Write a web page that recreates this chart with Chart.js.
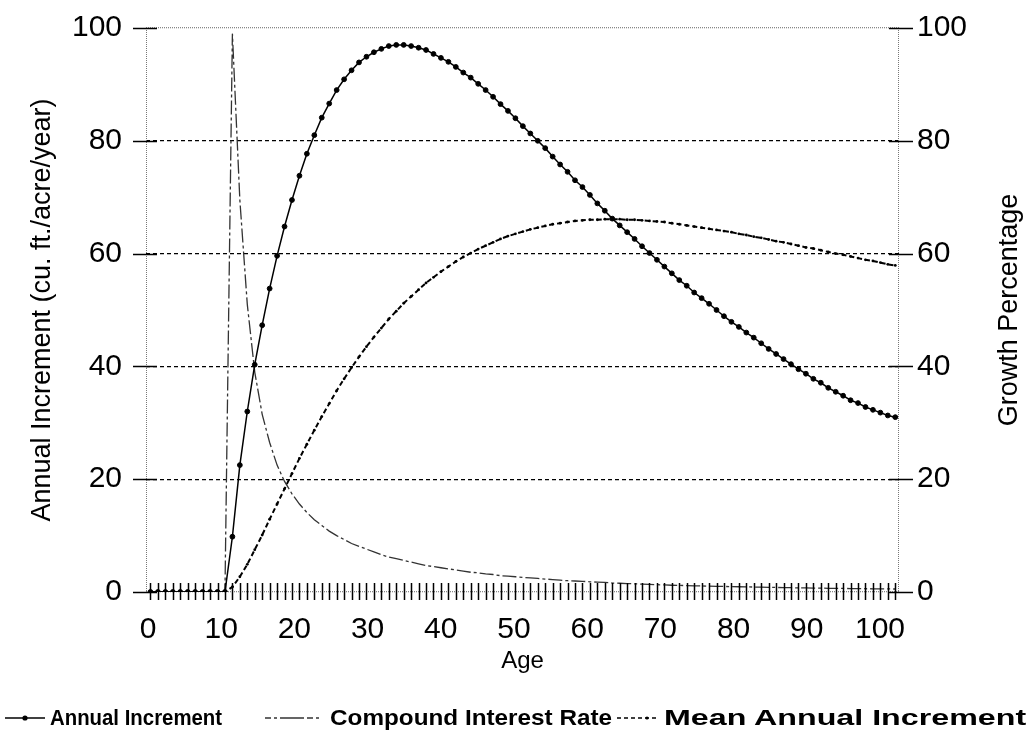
<!DOCTYPE html>
<html><head><meta charset="utf-8">
<script src="https://cdn.jsdelivr.net/npm/chart.js@4.4.0/dist/chart.umd.min.js"></script>
<style>
html,body{margin:0;padding:0;background:#fff;}
#wrap{position:relative;width:1032px;height:754px;overflow:hidden;}
#c{position:absolute;left:0;top:0;}
.leg{position:absolute;font-family:"Liberation Sans",Arial,sans-serif;font-weight:bold;font-size:22px;line-height:24px;color:#000;white-space:nowrap;transform-origin:0 50%;}
.sw{position:absolute;}
</style></head><body>
<div id="wrap">
<canvas id="c" width="1032" height="754"></canvas>
<svg class="sw" style="left:5px;top:708px" width="42" height="20"><line x1="0" y1="10" x2="40" y2="10" stroke="#000" stroke-width="1.6"/><circle cx="20" cy="10" r="2.6" fill="#000"/></svg>
<div class="leg" data-w="172" style="left:50px;top:706px">Annual Increment</div>
<svg class="sw" style="left:265px;top:708px" width="58" height="20"><line x1="0" y1="10" x2="57" y2="10" stroke="#333" stroke-width="1.4" stroke-dasharray="6,3,3,3,24,3"/></svg>
<div class="leg" data-w="282" style="left:330px;top:706px">Compound Interest Rate</div>
<svg class="sw" style="left:617px;top:708px" width="42" height="20"><line x1="0" y1="10" x2="40" y2="10" stroke="#000" stroke-width="1.6" stroke-dasharray="4,3"/><circle cx="30" cy="10" r="1.6" fill="#000"/></svg>
<div class="leg" data-w="362" style="left:664px;top:706px">Mean Annual Increment</div>
</div>
<script>
const ages = [0,1,2,3,4,5,6,7,8,9,10,11,12,13,14,15,16,17,18,19,20,21,22,23,24,25,26,27,28,29,30,31,32,33,34,35,36,37,38,39,40,41,42,43,44,45,46,47,48,49,50,51,52,53,54,55,56,57,58,59,60,61,62,63,64,65,66,67,68,69,70,71,72,73,74,75,76,77,78,79,80,81,82,83,84,85,86,87,88,89,90,91,92,93,94,95,96,97,98,99,100];
const annualIncrement = [0,0,0,0,0,0,0,0,0,0,0,
 9.8,22.5,32.0,40.3,47.3,53.8,59.6,64.8,69.5,73.8,
 77.7,81.0,84.1,86.6,89.0,90.9,92.5,93.9,94.9,95.7,
 96.3,96.8,97.0,97.0,96.8,96.5,96.1,95.4,94.7,94.0,
 93.1,92.1,91.2,90.1,89.0,87.8,86.5,85.3,84.0,82.6,
 81.3,80.0,78.7,77.2,75.8,74.5,73.0,71.8,70.4,68.9,
 67.6,66.2,65.0,63.8,62.6,61.3,60.1,58.9,57.7,56.5,
 55.3,54.3,53.1,52.1,51.1,50.0,48.9,47.9,47.0,46.0,
 45.1,44.1,43.1,42.2,41.3,40.4,39.5,38.7,37.8,37.1,
 36.2,35.5,34.8,34.0,33.5,32.8,32.3,31.8,31.3,31.0];
const compoundInterestRate = [0,0,0,0,0,0,0,0,0,0,0,
 99,69.5,51,39,31.5,26.5,22.5,19.6,17.4,15.6,
 14.1,12.8,11.8,10.8,10.0,9.3,8.6,8.1,7.6,7.1,
 6.6,6.2,5.9,5.6,5.3,5.0,4.7,4.5,4.3,4.1,
 3.9,3.7,3.5,3.4,3.2,3.1,2.9,2.8,2.7,2.6,
 2.5,2.4,2.3,2.2,2.1,2.0,1.95,1.9,1.8,1.75,
 1.7,1.6,1.55,1.5,1.45,1.4,1.35,1.3,1.25,1.2,
 1.17,1.14,1.1,1.07,1.04,1.0,0.98,0.95,0.93,0.9,
 0.88,0.85,0.83,0.81,0.78,0.76,0.74,0.72,0.7,0.68,
 0.66,0.65,0.63,0.61,0.6,0.58,0.57,0.55,0.54,0.53];
const meanAnnualIncrement = [0,0,0,0,0,0,0,0,0,0,0,
 0.9,2.7,4.9,7.5,10.1,12.9,15.6,18.3,21.0,23.7,
 26.2,28.7,31.1,33.4,35.7,37.8,39.8,41.7,43.5,45.2,
 46.8,48.4,49.8,51.2,52.4,53.6,54.8,55.8,56.8,57.7,
 58.6,59.4,60.1,60.8,61.4,62.0,62.6,63.1,63.5,63.9,
 64.3,64.6,64.9,65.2,65.4,65.6,65.8,65.9,66.0,66.0,
 66.1,66.1,66.1,66.0,66.0,65.9,65.8,65.7,65.6,65.4,
 65.2,65.0,64.8,64.6,64.4,64.2,64.0,63.8,63.5,63.3,
 63.0,62.8,62.5,62.2,62.0,61.7,61.4,61.1,60.9,60.6,
 60.3,60.0,59.8,59.5,59.2,58.9,58.7,58.4,58.1,57.9];
const xTickLabels = [0,10,20,30,40,50,60,70,80,90,100];
const yTickLabels = [0,20,40,60,80,100];

// fit legend labels to their widths in the reference
document.querySelectorAll('.leg').forEach(el => {
  const w = el.getBoundingClientRect().width;
  const target = parseFloat(el.dataset.w);
  if (w > 0) el.style.transform = 'scaleX(' + (target / w).toFixed(3) + ')';
});

const FONT = '"Liberation Sans", Arial, sans-serif';
Chart.defaults.font.family = FONT;
Chart.defaults.color = '#000';

const pts = arr => ages.map((a,i)=>({x:a,y:arr[i]}));

const framePlugin = {
  id:'frame',
  beforeDatasetsDraw(chart){
    const {ctx, chartArea:a} = chart;
    ctx.save();
    ctx.strokeStyle = '#777'; ctx.lineWidth = 1; ctx.setLineDash([1,1]);
    ctx.beginPath();
    ctx.moveTo(a.left+0.5, a.top); ctx.lineTo(a.left+0.5, a.bottom);
    ctx.moveTo(a.right-0.5, a.top); ctx.lineTo(a.right-0.5, a.bottom);
    ctx.stroke();
    ctx.restore();
  },
  afterDatasetsDraw(chart){
    const {ctx, chartArea:a, scales} = chart;
    ctx.save();
    ctx.setLineDash([]); ctx.strokeStyle = '#000'; ctx.lineWidth = 1.5;
    ctx.beginPath();
    for (const age of ages){
      const px = Math.round(scales.x.getPixelForValue(age))+0.5;
      ctx.moveTo(px, a.bottom-9); ctx.lineTo(px, a.bottom+8);
    }
    for (const v of yTickLabels){
      const py = Math.round(scales.y.getPixelForValue(v))+0.5;
      ctx.moveTo(a.left-13, py); ctx.lineTo(a.left+11, py);
      ctx.moveTo(a.right-10, py); ctx.lineTo(a.right+14, py);
    }
    ctx.stroke();
    ctx.translate(1010, (a.top+a.bottom)/2);
    ctx.rotate(-Math.PI/2);
    ctx.fillStyle = '#000';
    ctx.font = '27px ' + FONT;
    ctx.textAlign = 'center'; ctx.textBaseline = 'middle';
    ctx.fillText('Growth Percentage', 0, 0);
    ctx.restore();
  }
};

function fixV(w){ return s => { s.width = w; s.paddingTop = 0; s.paddingBottom = 0; }; }
function fixH(h){ return s => { s.height = h; s.paddingLeft = 0; s.paddingRight = 0; }; }

new Chart(document.getElementById('c'), {
  type:'line',
  data:{
    datasets:[
      {label:'Annual Increment', data:pts(annualIncrement), xAxisID:'x', yAxisID:'y',
       borderColor:'#000', borderWidth:1.5, pointRadius:2.4, pointBorderWidth:1,
       pointBackgroundColor:'#000', pointBorderColor:'#000', tension:0},
      {label:'Compound Interest Rate', data:pts(compoundInterestRate), xAxisID:'x', yAxisID:'y2',
       borderColor:'#333', borderWidth:1.3, borderDash:[14,3,3,3], pointRadius:0, tension:0},
      {label:'Mean Annual Increment', data:pts(meanAnnualIncrement), xAxisID:'x', yAxisID:'y',
       borderColor:'#000', borderWidth:2, borderDash:[5,3], pointRadius:1.4,
       pointBackgroundColor:'#000', pointBorderWidth:0, tension:0}
    ]
  },
  options:{
    responsive:false, animation:false, devicePixelRatio:1,
    layout:{padding:{top:28, left:0, right:0, bottom:0}},
    plugins:{legend:{display:false}, tooltip:{enabled:false}},
    scales:{
      x:{type:'linear', min:-0.6, max:100.5, position:'bottom', display:true,
         ticks:{display:false}, grid:{display:false, drawTicks:false}, border:{display:false},
         afterFit: fixH(0)},
      xl:{type:'linear', min:-0.27, max:102.6, position:'bottom',
         afterBuildTicks(s){ s.ticks = xTickLabels.map(v=>({value:v})); },
         ticks:{font:{size:30}, color:'#000', padding:20, maxRotation:0, autoSkip:false},
         grid:{display:false, drawTicks:false}, border:{display:false},
         title:{display:true, text:'Age', font:{size:24}, color:'#000', padding:{top:0,bottom:78}},
         afterFit: fixH(162)},
      y:{type:'linear', min:0, max:100, position:'left',
         afterBuildTicks(s){ s.ticks = yTickLabels.map(v=>({value:v})); },
         ticks:{font:{size:30}, color:'#000', padding:24},
         grid:{drawTicks:false, lineWidth:1.3,
               color:c => (c.tick && (c.tick.value===0||c.tick.value===100)) ? '#888' : '#000'},
         border:{display:false,
               dash:c => (c.tick && (c.tick.value===0||c.tick.value===100)) ? [1,1] : [4,3]},
         title:{display:true, text:'Annual Increment (cu. ft./acre/year)', font:{size:27}, color:'#000', padding:{top:26,bottom:0}},
         afterFit: fixV(146)},
      y2:{type:'linear', min:0, max:100, position:'right',
         afterBuildTicks(s){ s.ticks = yTickLabels.map(v=>({value:v})); },
         ticks:{font:{size:30}, color:'#000', padding:18},
         grid:{drawOnChartArea:false, drawTicks:false}, border:{display:false},
         afterFit: fixV(133)}
    }
  },
  plugins:[framePlugin]
});
</script>
</body></html>
